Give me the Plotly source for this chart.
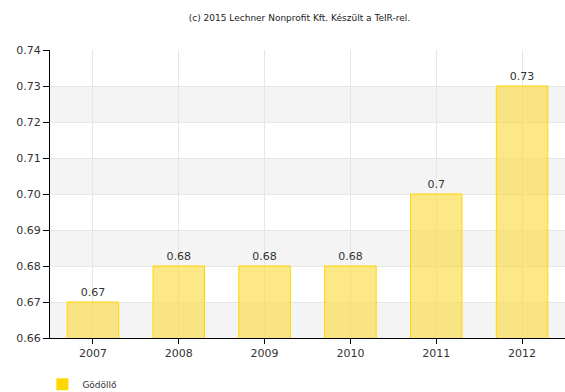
import plotly.graph_objects as go

years = ["2007", "2008", "2009", "2010", "2011", "2012"]
values = [0.67, 0.68, 0.68, 0.68, 0.70, 0.73]
series_name = "Gödöllő"
y_ticks = [0.66, 0.67, 0.68, 0.69, 0.70, 0.71, 0.72, 0.73, 0.74]
y_tick_labels = ["0.66", "0.67", "0.68", "0.69", "0.70", "0.71", "0.72", "0.73", "0.74"]
value_labels = ["0.67", "0.68", "0.68", "0.68", "0.7", "0.73"]

fig = go.Figure()
fig.add_trace(go.Bar(
    x=years, y=values, base=0,
    name=series_name,
    width=0.6,
    marker=dict(color="rgba(250,218,60,0.62)", line=dict(color="#FFD700", width=1)),
    text=value_labels, textposition="outside", cliponaxis=False,
    textfont=dict(family="DejaVu Sans", size=11, color="#333333"),
    showlegend=False,
))
# legend entry with the solid series colour
fig.add_trace(go.Bar(
    x=[None], y=[None], name=series_name,
    marker=dict(color="#FFD700", line=dict(width=0)),
    showlegend=True,
))

# alternating horizontal bands
shapes = []
for i in range(0, len(y_ticks) - 1, 2):
    shapes.append(dict(type="rect", xref="paper", yref="y", x0=0, x1=1,
                       y0=y_ticks[i], y1=y_ticks[i + 1],
                       fillcolor="#F4F4F4", line=dict(width=0), layer="below"))

fig.update_layout(
    width=565, height=392,
    margin=dict(l=50, r=0, t=50, b=54, autoexpand=False),
    paper_bgcolor="white", plot_bgcolor="white",
    font=dict(family="DejaVu Sans", size=11, color="#333333"),
    title=dict(text="(c) 2015 Lechner Nonprofit Kft. Készült a TeIR-rel.",
               x=0.53, xanchor="center", y=0.955, yanchor="middle",
               font=dict(size=9, color="#222222")),
    shapes=shapes,
    barmode="overlay",
    showlegend=True,
    legend=dict(orientation="h", x=0.075, xref="container", xanchor="left",
                y=0.02, yref="container", yanchor="middle",
                font=dict(size=9, color="#333333"), itemwidth=30),
)
fig.update_yaxes(range=[0.66, 0.74], tickvals=y_ticks, ticktext=y_tick_labels,
                 showgrid=True, gridcolor="#E6E6E6", gridwidth=1,
                 showline=True, linecolor="#000000", linewidth=1,
                 ticks="outside", ticklen=6, tickcolor="#000000", zeroline=False)
fig.update_xaxes(showgrid=True, gridcolor="#E6E6E6", gridwidth=1,
                 showline=True, linecolor="#000000", linewidth=1,
                 ticks="outside", ticklen=5, tickcolor="#000000")

fig.write_html("out.html")
